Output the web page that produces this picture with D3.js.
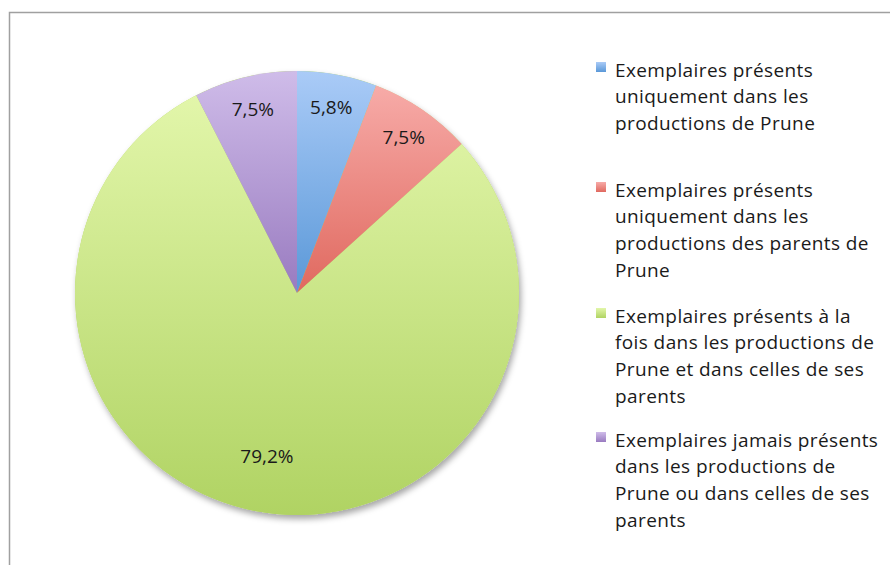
<!DOCTYPE html>
<html>
<head>
<meta charset="utf-8">
<script src="https://cdn.jsdelivr.net/npm/d3@7"></script>
<style>
  body { margin: 0; background: #fff; }
  text { font-family: "Open Sans", sans-serif; fill: #1a1a1a; }
</style>
</head>
<body>
<div id="chart"></div>
<script>
// data
const categories = [
  "Exemplaires présents uniquement dans les productions de Prune",
  "Exemplaires présents uniquement dans les productions des parents de Prune",
  "Exemplaires présents à la fois dans les productions de Prune et dans celles de ses parents",
  "Exemplaires jamais présents dans les productions de Prune ou dans celles de ses parents"
];
const values = [5.8, 7.5, 79.2, 7.5];
const valueLabels = ["5,8%", "7,5%", "79,2%", "7,5%"];
// legend wrapping as in the original
const legendLines = [
  ["Exemplaires présents", "uniquement dans les", "productions de Prune"],
  ["Exemplaires présents", "uniquement dans les", "productions des parents de", "Prune"],
  ["Exemplaires présents à la", "fois dans les productions de", "Prune et dans celles de ses", "parents"],
  ["Exemplaires jamais présents", "dans les productions de", "Prune ou dans celles de ses", "parents"]
];
const colorTop = ["#aacbf7", "#f7aba8", "#e2f6aa", "#cfbce9"];
const colorBottom = ["#5a98d8", "#e0695f", "#b0d363", "#997bc0"];

const W = 890, H = 565;
const cx = 297, cy = 293, R = 222;

const svg = d3.select("#chart").append("svg")
  .attr("width", W).attr("height", H);

const defs = svg.append("defs");
categories.forEach((c, i) => {
  const g = defs.append("linearGradient")
    .attr("id", "grad" + i)
    .attr("x1", 0).attr("y1", 0).attr("x2", 0).attr("y2", 1);
  g.append("stop").attr("offset", "0%").attr("stop-color", colorTop[i]);
  g.append("stop").attr("offset", "100%").attr("stop-color", colorBottom[i]);
});

const shadow = defs.append("filter").attr("id", "shadow")
  .attr("x", "-10%").attr("y", "-10%").attr("width", "125%").attr("height", "125%");
shadow.append("feDropShadow")
  .attr("dx", 2).attr("dy", 4).attr("stdDeviation", 3)
  .attr("flood-color", "#000").attr("flood-opacity", 0.35);

// frame (cropped at right and bottom)
svg.append("path")
  .attr("d", `M9.5,${H} L9.5,12.5 L${W},12.5`)
  .attr("fill", "none").attr("stroke", "#a0a0a0").attr("stroke-width", 1.5);

const pie = d3.pie().sort(null).value(d => d);
const arcs = pie(values);
const arc = d3.arc().innerRadius(0).outerRadius(R);

const g = svg.append("g").attr("transform", `translate(${cx},${cy})`);

g.append("circle").attr("r", R).attr("fill", "#b0d363")
  .attr("filter", "url(#shadow)");

g.selectAll("path.slice")
  .data(arcs)
  .enter()
  .append("path")
  .attr("class", "slice")
  .attr("d", arc)
  .attr("fill", (d, i) => `url(#grad${i})`);

const labelArcSmall = d3.arc().innerRadius(189).outerRadius(189);
const labelArcBig = d3.arc().innerRadius(166).outerRadius(166);

g.selectAll("text.lbl")
  .data(arcs)
  .enter()
  .append("text")
  .attr("class", "lbl")
  .attr("transform", d => {
    const a = d.value > 50 ? labelArcBig : labelArcSmall;
    return `translate(${a.centroid(d)})`;
  })
  .attr("text-anchor", "middle")
  .attr("dy", "0.35em")
  .style("font-size", "19px")
  .text((d, i) => valueLabels[i]);

// legend
const legendTop = [70, 190, 316, 440];
const lineH = 26.8;
const legend = svg.append("g");
legendLines.forEach((lines, i) => {
  legend.append("rect")
    .attr("x", 596).attr("y", legendTop[i] - 8)
    .attr("width", 10).attr("height", 10)
    .attr("fill", `url(#grad${i})`);
  const t = legend.append("text")
    .style("font-size", "19px")
    .style("letter-spacing", "0.4px");
  lines.forEach((l, j) => {
    t.append("tspan")
      .attr("x", 615)
      .attr("y", legendTop[i] + j * lineH)
      .attr("dy", "0.35em")
      .text(l);
  });
});
</script>
</body>
</html>
